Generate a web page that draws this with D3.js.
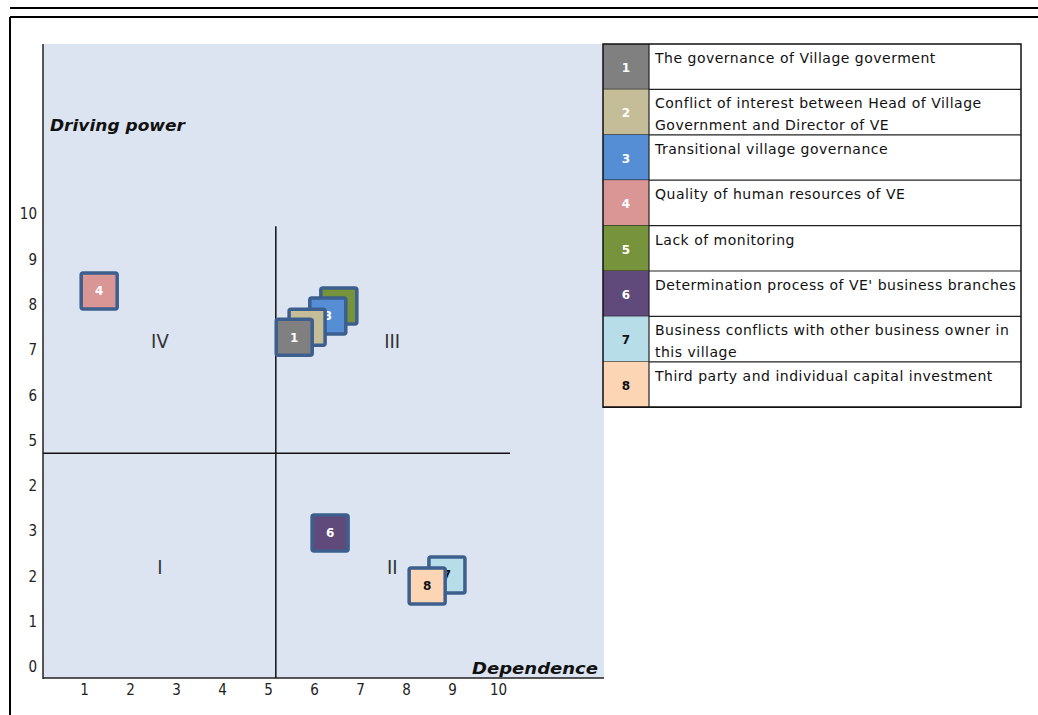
<!DOCTYPE html>
<html>
<head>
<meta charset="utf-8">
<title>MICMAC driving power / dependence</title>
<script src="https://d3js.org/d3.v7.min.js"></script>
<style>
  body { margin: 0; background: #fff; }
  svg { display: block; }
  .tick text { font-family: "DejaVu Sans Condensed", "DejaVu Sans", sans-serif; font-size: 15px; fill: #222; }
  .quad { font-family: "DejaVu Sans Condensed", "DejaVu Sans", sans-serif; font-size: 20px; fill: #333; }
  .axis-title { font-family: "DejaVu Sans", sans-serif; font-size: 15px; font-weight: bold; font-style: italic; fill: #111; }
  .legend-text { font-family: "DejaVu Sans", sans-serif; font-size: 14px; letter-spacing: 0.5px; fill: #111; }
  .num { font-family: "DejaVu Sans", sans-serif; font-size: 12px; font-weight: bold; }
</style>
</head>
<body>
<svg id="chart" width="1038" height="715"></svg>
<script>
// factors (id, legend text lines, colour)
var factorIds = [1, 2, 3, 4, 5, 6, 7, 8];
var factorNames = [
  ["The governance of Village goverment"],
  ["Conflict of interest between Head of Village", "Government and Director of VE"],
  ["Transitional village governance"],
  ["Quality of human resources of VE"],
  ["Lack of monitoring"],
  ["Determination process of VE' business branches"],
  ["Business conflicts with other business owner in", "this village"],
  ["Third party and individual capital investment"]
];
var factorColors = ["#808080", "#c4bd97", "#558ed5", "#d99694", "#77933c", "#604a7b", "#b7dde8", "#fcd5b5"];
var numberColors = ["#fff", "#fff", "#fff", "#fff", "#fff", "#fff", "#111", "#111"];

// positions
var dependence   = [5.57, 5.85, 6.30, 1.33, 6.54, 6.35, 8.89, 8.46];
var drivingPower = [7.28, 7.50, 7.75, 8.30, 7.97, 2.96, 2.03, 1.79];

// axis ticks
var xTickValues = [1, 2, 3, 4, 5, 6, 7, 8, 9, 10];
var yTickValues = [0, 1, 2, 3, 4, 5, 6, 7, 8, 9, 10];
var yTickLabels = ["0", "1", "2", "3", "2", "5", "6", "7", "8", "9", "10"];

// quadrants
var quadrantNames = ["I", "II", "III", "IV"];
var quadrantX = [2.65, 7.7, 7.7, 2.65];
var quadrantY = [2.2, 2.2, 7.2, 7.2];
var dividerX = 5.17;
var dividerY = 4.72;

var svg = d3.select("#chart");

// frame lines
svg.append("line").attr("x1", 10).attr("x2", 1038).attr("y1", 8).attr("y2", 8)
  .attr("stroke", "#000").attr("stroke-width", 2);
svg.append("line").attr("x1", 10).attr("x2", 1038).attr("y1", 17).attr("y2", 17)
  .attr("stroke", "#000").attr("stroke-width", 2);
svg.append("line").attr("x1", 10).attr("x2", 10).attr("y1", 17).attr("y2", 715)
  .attr("stroke", "#000").attr("stroke-width", 2);

var x = d3.scaleLinear().domain([0, 10]).range([38, 498]);
var y = d3.scaleLinear().domain([0, 10]).range([667, 214]);

// plot background
svg.append("rect").attr("x", 43).attr("y", 44).attr("width", 561).attr("height", 634)
  .attr("fill", "#dbe4f0");

// axes
var xAxis = d3.axisBottom(x).tickValues(xTickValues).tickSize(0).tickPadding(6);
svg.append("g").attr("transform", "translate(0,678)").call(xAxis)
  .call(function(g) { g.select(".domain").remove(); });

var yAxis = d3.axisLeft(y).tickValues(yTickValues).tickSize(0).tickPadding(6)
  .tickFormat(function(d, i) { return yTickLabels[i]; });
svg.append("g").attr("transform", "translate(43,0)").call(yAxis)
  .call(function(g) { g.select(".domain").remove(); });

svg.append("line").attr("x1", 43).attr("x2", 43).attr("y1", 44).attr("y2", 679)
  .attr("stroke", "#222").attr("stroke-width", 1.5);
svg.append("line").attr("x1", 43).attr("x2", 604).attr("y1", 678).attr("y2", 678)
  .attr("stroke", "#222").attr("stroke-width", 1.5);

// axis titles
svg.append("text").attr("class", "axis-title").attr("x", 50).attr("y", 131)
  .attr("textLength", 135).attr("lengthAdjust", "spacingAndGlyphs").text("Driving power");
svg.append("text").attr("class", "axis-title").attr("x", 472).attr("y", 674)
  .attr("textLength", 126).attr("lengthAdjust", "spacingAndGlyphs").text("Dependence");

// quadrant dividers
svg.append("line").attr("x1", x(dividerX)).attr("x2", x(dividerX)).attr("y1", y(9.73)).attr("y2", 678)
  .attr("stroke", "#111").attr("stroke-width", 1.5);
svg.append("line").attr("x1", 43).attr("x2", x(10.26)).attr("y1", y(dividerY)).attr("y2", y(dividerY))
  .attr("stroke", "#111").attr("stroke-width", 1.5);

svg.selectAll(".quad").data(quadrantNames).enter().append("text")
  .attr("class", "quad")
  .attr("x", function(d, i) { return x(quadrantX[i]); })
  .attr("y", function(d, i) { return y(quadrantY[i]); })
  .attr("text-anchor", "middle").attr("dy", "0.35em")
  .text(function(d) { return d; });

// markers, drawn from top to bottom so lower ones overlap
var factors = factorIds.map(function(id, i) {
  return { id: id, x: dependence[i], y: drivingPower[i], color: factorColors[i], numColor: numberColors[i] };
});
factors.sort(function(a, b) { return b.y - a.y; });

var size = 36;
var marker = svg.selectAll(".marker").data(factors).enter().append("g")
  .attr("class", "marker")
  .attr("transform", function(d) { return "translate(" + x(d.x) + "," + y(d.y) + ")"; });
marker.append("rect")
  .attr("x", -size / 2).attr("y", -size / 2).attr("width", size).attr("height", size)
  .attr("rx", 2).attr("fill", function(d) { return d.color; })
  .attr("stroke", "#3d5f8e").attr("stroke-width", 3.5);
marker.append("text").attr("class", "num")
  .attr("text-anchor", "middle").attr("dy", "0.36em")
  .attr("fill", function(d) { return d.numColor; })
  .text(function(d) { return d.id; });

// legend table
var legX = 603, legY = 44, rowH = 45.4, swW = 46, legW = 418;
var legend = svg.append("g");
var row = legend.selectAll(".row").data(factorIds).enter().append("g")
  .attr("transform", function(d, i) { return "translate(" + legX + "," + (legY + i * rowH) + ")"; });
row.append("rect").attr("width", swW).attr("height", rowH)
  .attr("fill", function(d, i) { return factorColors[i]; });
row.append("text").attr("class", "num")
  .attr("x", swW / 2).attr("y", rowH / 2 + 1).attr("dy", "0.36em").attr("text-anchor", "middle")
  .attr("fill", function(d, i) { return numberColors[i]; })
  .text(function(d) { return d; });
row.append("text").attr("class", "legend-text")
  .attr("x", 52).attr("y", 19)
  .selectAll("tspan").data(function(d, i) { return factorNames[i]; }).enter().append("tspan")
  .attr("x", 52).attr("dy", function(d, j) { return j === 0 ? 0 : 22; })
  .text(function(d) { return d; });
row.append("line").attr("x1", 0).attr("x2", legW).attr("y1", rowH).attr("y2", rowH)
  .attr("stroke", "#222").attr("stroke-width", 1.2);
legend.append("line").attr("x1", legX + swW).attr("x2", legX + swW)
  .attr("y1", legY).attr("y2", legY + rowH * factorIds.length)
  .attr("stroke", "#222").attr("stroke-width", 1.2);
legend.append("rect").attr("x", legX).attr("y", legY)
  .attr("width", legW).attr("height", rowH * factorIds.length)
  .attr("fill", "none").attr("stroke", "#111").attr("stroke-width", 1.5);
</script>
</body>
</html>
